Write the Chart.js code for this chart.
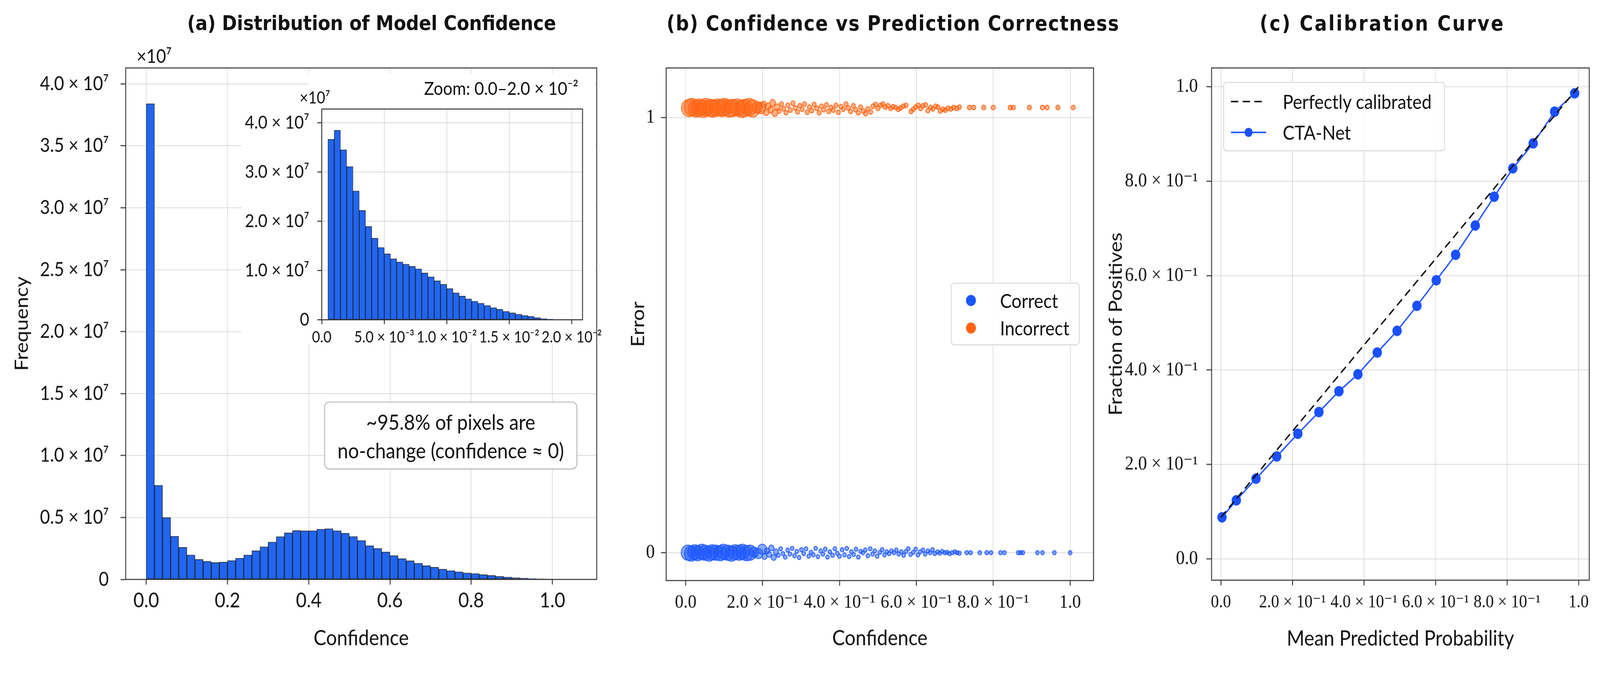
<!DOCTYPE html>
<html lang="en">
<head>
<meta charset="utf-8">
<title>Model confidence</title>
<script src="https://cdn.jsdelivr.net/npm/chart.js@4.4.1/dist/chart.umd.min.js"></script>
<style>
  html, body { margin: 0; padding: 0; background: #fff; overflow: hidden; }
  #pagina { position: relative; overflow: hidden; }
  /* figure is laid out at 4357 x 1601 and stretched by 1.12 in height, like the reference */
  #figuur { position: absolute; left: 0; top: 0; width: 4357px; height: 1601px; overflow: hidden; transform-origin: 0 0;
    font-family: Lato, "DejaVu Sans", sans-serif; color: #111; }
  .vak { position: absolute; top: 0; }
  .vak canvas { display: block; }
  .titel { position: absolute; top: 29px; font-family: "DejaVu Sans", sans-serif; font-weight: bold;
    line-height: 56px; white-space: nowrap; transform: translateX(-50%); }
  .tekst { position: absolute; white-space: nowrap; }
  .notitie { position: absolute; box-sizing: border-box; left: 883px; top: 977px; width: 689px; height: 165px;
    background: #fff; border: 2.5px solid #a8a8a8; border-radius: 14px; text-align: center;
    font-size: 52px; line-height: 68.7px; padding-top: 13px; }
  .legenda { position: absolute; box-sizing: border-box; background: rgba(255,255,255,0.9);
    border: 2.5px solid #d2d2d2; border-radius: 10px; font-size: 48px; }
  .legenda-item { position: absolute; white-space: nowrap; line-height: 50px; }
  .legenda svg { position: absolute; }
</style>
</head>
<body>
<div id="pagina">
<div id="figuur">
  <div class="vak" style="left:0"><canvas id="grafiek-a" width="1680" height="1601"></canvas></div>
  <div class="vak" style="left:640px;top:174px"><canvas id="grafiek-inzet" width="1010" height="679"></canvas></div>
  <div class="vak" style="left:1680px"><canvas id="grafiek-b" width="1320" height="1601"></canvas></div>
  <div class="vak" style="left:3000px"><canvas id="grafiek-c" width="1357" height="1601"></canvas></div>

  <div class="titel" style="left:1012px;font-size:49px">(a) Distribution of Model Confidence</div>
  <div class="titel" style="left:2432px;font-size:50px;letter-spacing:2px">(b) Confidence vs Prediction Correctness</div>
  <div class="titel" style="left:3764px;font-size:50px;letter-spacing:4px">(c) Calibration Curve</div>

  <div class="tekst" style="left:372px;top:110.7px;font-size:46px;line-height:50px">×10⁷</div>
  <div class="tekst" style="left:816px;top:214.6px;font-size:40px;line-height:44px">×10⁷</div>
  <div class="tekst" style="right:2782px;top:189.3px;font-size:45px;line-height:50px">Zoom: 0.0–2.0 × 10⁻²</div>

  <div class="notitie">~95.8% of pixels are<br>no-change (confidence ≈ 0)</div>

  <div class="legenda" style="left:2589px;top:687.5px;width:351px;height:152.7px">
    <svg style="left:39px;top:27.1px" width="28" height="28"><circle cx="14" cy="14" r="13.5" fill="#1a56ff"/></svg>
    <div class="legenda-item" style="left:132px;top:16.1px">Correct</div>
    <svg style="left:39px;top:94px" width="28" height="28"><circle cx="14" cy="14" r="13.5" fill="#ff6312"/></svg>
    <div class="legenda-item" style="left:132px;top:83px">Incorrect</div>
  </div>

  <div class="legenda" style="left:3331px;top:199.1px;width:604px;height:168.75px">
    <svg style="left:19px;top:33.5px" width="96" height="24"><line x1="0" y1="12" x2="96" y2="12" stroke="#000" stroke-width="3.5" stroke-dasharray="20 12"/></svg>
    <div class="legenda-item" style="left:160px;top:20.5px">Perfectly calibrated</div>
    <svg style="left:19px;top:108.5px" width="96" height="24"><line x1="0" y1="12" x2="96" y2="12" stroke="#1a50ff" stroke-width="3.5"/><circle cx="48" cy="12" r="11" fill="#1a50ff"/></svg>
    <div class="legenda-item" style="left:160px;top:95.5px">CTA-Net</div>
  </div>
</div>
</div>

<script>
// ---- histogram (a): 50 bins of 0.02 between 0 and 1 ----
const histStart = 0;
const histBinBreedte = 0.02;
const histAantallen = [
  3.840e7, 0.760e7, 0.499e7, 0.349e7, 0.260e7, 0.198e7, 0.162e7, 0.146e7, 0.136e7, 0.140e7,
  0.153e7, 0.172e7, 0.198e7, 0.232e7, 0.264e7, 0.302e7, 0.346e7, 0.376e7, 0.395e7, 0.393e7,
  0.393e7, 0.406e7, 0.410e7, 0.393e7, 0.373e7, 0.347e7, 0.314e7, 0.272e7, 0.250e7, 0.222e7,
  0.192e7, 0.168e7, 0.151e7, 0.131e7, 0.111e7, 0.098e7, 0.083e7, 0.071e7, 0.061e7, 0.053e7,
  0.047e7, 0.039e7, 0.032e7, 0.025e7, 0.019e7, 0.014e7, 0.010e7, 0.007e7, 0.005e7, 0.004e7,
];
const confTicks = [0, 0.2, 0.4, 0.6, 0.8, 1.0];
const confTickLabelsA = ['0.0', '0.2', '0.4', '0.6', '0.8', '1.0'];
const freqTicks = [0, 0.5e7, 1.0e7, 1.5e7, 2.0e7, 2.5e7, 3.0e7, 3.5e7, 4.0e7];
const freqTickLabels = ['0', '0.5 × 10⁷', '1.0 × 10⁷', '1.5 × 10⁷', '2.0 × 10⁷',
  '2.5 × 10⁷', '3.0 × 10⁷', '3.5 × 10⁷', '4.0 × 10⁷'];

// ---- inset: zoom 0 - 0.02 ----
const inzetStart = 0.0005;
const inzetBinBreedte = 0.0005;
const inzetAantallen = [
  3.662e7, 3.845e7, 3.451e7, 3.109e7, 2.613e7, 2.218e7, 1.894e7, 1.655e7, 1.468e7, 1.338e7,
  1.239e7, 1.173e7, 1.127e7, 1.085e7, 1.032e7, 0.951e7, 0.873e7, 0.792e7, 0.722e7, 0.634e7,
  0.546e7, 0.482e7, 0.423e7, 0.377e7, 0.335e7, 0.289e7, 0.246e7, 0.211e7, 0.169e7, 0.141e7,
  0.113e7, 0.088e7, 0.070e7, 0.042e7, 0.025e7, 0.014e7, 0.007e7, 0.004e7, 0.002e7, 0.001e7,
];
const inzetXTicks = [0, 0.005, 0.01, 0.015, 0.02];
const inzetXTickLabels = ['0.0', '5.0 × 10⁻³', '1.0 × 10⁻²', '1.5 × 10⁻²', '2.0 × 10⁻²'];
const inzetYTicks = [0, 1e7, 2e7, 3e7, 4e7];
const inzetYTickLabels = ['0', '1.0 × 10⁷', '2.0 × 10⁷', '3.0 × 10⁷', '4.0 × 10⁷'];

// ---- scatter (b) ----
const incorrectX = [
  0.009, 0.016, 0.027, 0.035, 0.046, 0.052, 0.064, 0.071, 0.083, 0.094,
  0.101, 0.113, 0.122, 0.134, 0.146, 0.153, 0.165, 0.174, 0.186, 0.195,
  0.203, 0.209, 0.214, 0.221, 0.226, 0.232, 0.238, 0.243, 0.249, 0.255,
  0.261, 0.266, 0.272, 0.279, 0.285, 0.291, 0.297, 0.303, 0.309, 0.316,
  0.322, 0.328, 0.334, 0.341, 0.347, 0.353, 0.359, 0.366, 0.372, 0.378,
  0.384, 0.391, 0.397, 0.404, 0.410, 0.417, 0.423, 0.429, 0.436, 0.442,
  0.449, 0.455, 0.462, 0.468, 0.474, 0.481, 0.487, 0.494, 0.500, 0.507,
  0.513, 0.519, 0.526, 0.533, 0.539, 0.546, 0.553, 0.559, 0.566, 0.573,
  0.586, 0.592, 0.598, 0.605, 0.611, 0.617, 0.624, 0.630, 0.637, 0.643,
  0.650, 0.656, 0.662, 0.669, 0.675, 0.682, 0.690, 0.697, 0.705, 0.712,
  0.738, 0.749, 0.775, 0.800, 0.844, 0.852, 0.894, 0.928, 0.940, 0.968, 1.008,
];
const incorrectY = [
  1.022, 1.024, 1.021, 1.023, 1.020, 1.024, 1.022, 1.021, 1.023, 1.022,
  1.024, 1.021, 1.022, 1.023, 1.020, 1.022, 1.024, 1.021, 1.023, 1.022,
  1.030, 1.012, 1.026, 1.018, 1.034, 1.010, 1.024, 1.015, 1.031, 1.020,
  1.011, 1.028, 1.017, 1.033, 1.022, 1.013, 1.027, 1.019, 1.031, 1.012,
  1.024, 1.016, 1.030, 1.021, 1.011, 1.026, 1.018, 1.029, 1.014, 1.023,
  1.017, 1.028, 1.012, 1.025, 1.019, 1.031, 1.022, 1.014, 1.027, 1.018,
  1.011, 1.024, 1.015, 1.009, 1.020, 1.013, 1.026, 1.030, 1.021, 1.028,
  1.031, 1.024, 1.027, 1.021, 1.025, 1.023, 1.019, 1.022, 1.026, 1.028,
  1.014, 1.019, 1.024, 1.028, 1.021, 1.027, 1.029, 1.016, 1.023, 1.020,
  1.026, 1.024, 1.015, 1.019, 1.017, 1.021, 1.020, 1.023, 1.021, 1.024,
  1.023, 1.023, 1.023, 1.023, 1.023, 1.023, 1.023, 1.023, 1.023, 1.023, 1.023,
];
const correctX = [
  0.006, 0.014, 0.023, 0.031, 0.042, 0.050, 0.061, 0.069, 0.079, 0.090,
  0.098, 0.109, 0.119, 0.128, 0.139, 0.148, 0.158, 0.167, 0.178, 0.189,
  0.199, 0.205, 0.211, 0.217, 0.223, 0.229, 0.235, 0.241, 0.247, 0.253,
  0.259, 0.265, 0.271, 0.277, 0.283, 0.289, 0.295, 0.301, 0.307, 0.313,
  0.320, 0.326, 0.332, 0.338, 0.344, 0.351, 0.357, 0.363, 0.369, 0.375,
  0.382, 0.388, 0.394, 0.400, 0.407, 0.413, 0.419, 0.425, 0.431, 0.437,
  0.443, 0.449, 0.455, 0.461, 0.467, 0.474, 0.480, 0.486, 0.492, 0.498,
  0.505, 0.511, 0.517, 0.523, 0.529, 0.535, 0.542, 0.548, 0.554, 0.561,
  0.567, 0.573, 0.579, 0.585, 0.592, 0.598, 0.604, 0.610, 0.617, 0.623,
  0.630, 0.636, 0.642, 0.648, 0.655, 0.661, 0.667, 0.674, 0.680, 0.686,
  0.693, 0.700, 0.706, 0.712,
  0.731, 0.741, 0.765, 0.783, 0.794, 0.819, 0.829, 0.865, 0.871, 0.877, 0.915, 0.928, 0.959, 1.000,
];
const correctY = [
  0.000, -0.002, 0.001, -0.001, 0.002, 0.000, -0.002, 0.001, 0.000, -0.001,
  0.002, 0.000, -0.002, 0.001, 0.000, 0.002, -0.001, 0.000, 0.001, -0.002,
  0.008, -0.009, 0.004, -0.004, 0.011, -0.011, 0.002, -0.006, 0.009, -0.002,
  -0.010, 0.006, -0.003, 0.010, -0.007, 0.003, -0.011, 0.007, -0.002, 0.009,
  -0.008, 0.001, -0.005, 0.010, -0.009, 0.004, -0.003, 0.008, -0.010, 0.002,
  -0.006, 0.009, -0.001, -0.008, 0.007, -0.005, 0.010, -0.009, 0.002, -0.004,
  0.008, -0.010, 0.003, 0.000, 0.006, -0.007, 0.009, -0.003, 0.004, -0.008,
  0.001, 0.007, -0.005, 0.002, -0.002, 0.004, 0.000, 0.006, -0.003, 0.002,
  -0.006, 0.003, 0.009, -0.004, 0.001, 0.008, -0.005, 0.002, 0.006, -0.003,
  0.004, 0.000, 0.007, -0.002, 0.002, -0.001, 0.003, 0.000, 0.001, -0.002,
  0.000, 0.002, 0.000, -0.001,
  0, 0, 0, 0, 0, 0, 0, 0, 0, 0, 0, 0, 0, 0,
];
const confTickLabelsSci = ['0.0', '2.0 × 10⁻¹', '4.0 × 10⁻¹', '6.0 × 10⁻¹', '8.0 × 10⁻¹', '1.0'];
const errorTicks = [0, 1];
const errorTickLabels = ['0', '1'];

// ---- calibration (c) ----
const kalibratieX = [0.003, 0.043, 0.098, 0.156, 0.215, 0.274, 0.330, 0.383, 0.437, 0.4925,
  0.548, 0.602, 0.656, 0.711, 0.764, 0.816, 0.873, 0.933, 0.989];
const kalibratieY = [0.088, 0.124, 0.170, 0.217, 0.265, 0.311, 0.355, 0.391, 0.437, 0.483,
  0.536, 0.590, 0.644, 0.706, 0.767, 0.827, 0.880, 0.947, 0.986];
const perfectX = [0, 1];
const perfectY = [0.088, 1.0];
const fractieTicks = [0, 0.2, 0.4, 0.6, 0.8, 1.0];
const fractieTickLabels = ['0.0', '2.0 × 10⁻¹', '4.0 × 10⁻¹', '6.0 × 10⁻¹', '8.0 × 10⁻¹', '1.0'];

// ---- style ----
const SY = 1.12;
const HIST_BLAUW = '#2166f2';
const HIST_RAND = '#1c1c1c';
const BLAUW = '#1a56ff';
const ORANJE = '#ff6312';
const LIJN_BLAUW = '#1a50ff';
const RASTER = 'rgba(150,150,150,0.35)';
const KADER = '#333333';
const SANS = 'Lato, "DejaVu Sans", sans-serif';
const SERIF = '"Liberation Serif", "DejaVu Serif", serif';

// fit the 4357 px wide figure to the window width, then stretch it vertically
const k = window.innerWidth / 4357;
const pagina = document.getElementById('pagina');
pagina.style.width = `${4357 * k}px`;
pagina.style.height = `${1793 * k}px`;
document.body.style.height = `${1793 * k}px`;
document.getElementById('figuur').style.transform = `scale(${k}, ${k * SY})`;

Chart.defaults.font.family = SANS;
Chart.defaults.color = '#111';
Chart.defaults.animation = false;
Chart.defaults.events = [];
Chart.defaults.devicePixelRatio = (window.devicePixelRatio || 1) * k * SY;
Chart.defaults.plugins.legend.display = false;
Chart.defaults.plugins.tooltip.enabled = false;

const kaderPlugin = {
  id: 'kader',
  afterDatasetsDraw(chart) {
    const { ctx, chartArea: a } = chart;
    ctx.save();
    ctx.strokeStyle = KADER;
    ctx.lineWidth = 2.5;
    ctx.setLineDash([]);
    ctx.strokeRect(a.left, a.top, a.right - a.left, a.bottom - a.top);
    ctx.restore();
  },
};

// white patch behind the inset, hides the main grid there
const inzetAchtergrond = {
  id: 'inzetAchtergrond',
  beforeDraw(chart) {
    const ctx = chart.ctx;
    ctx.save();
    ctx.fillStyle = '#fff';
    ctx.fillRect(18, 90.2, 962, 570.5);
    ctx.fillRect(197, 4.5, 783, 85.7);
    ctx.restore();
  },
};

function schaal({ min, max, ticks, labels, font, padding, size, tickLength, titel }) {
  return {
    type: 'linear',
    min, max,
    bounds: 'data',
    offset: false,
    afterBuildTicks: s => { s.ticks = ticks.map(v => ({ value: v })); },
    afterFit: s => { if (s.isHorizontal()) s.height = size; else s.width = size; },
    ticks: {
      autoSkip: false, maxRotation: 0, minRotation: 0,
      padding, font, color: '#111',
      callback: (v, i) => labels[i],
    },
    grid: {
      color: RASTER, lineWidth: 1.8, borderDash: [10, 8], offset: false,
      tickLength, tickColor: KADER, tickWidth: 2.5, tickBorderDash: [],
    },
    border: { display: false },
    title: titel
      ? { display: true, text: titel.tekst, color: '#111', font: { family: SANS, size: titel.grootte }, padding: titel.padding }
      : { display: false },
  };
}

function histogramPunten(start, breedte, aantallen) {
  return aantallen.map((y, i) => ({ x: start + (i + 0.5) * breedte, y }));
}

function punten(xs, ys) {
  return xs.map((x, i) => ({ x, y: ys[i] }));
}

// marker size shrinks where the points thin out
function straal(groot) {
  return ctx => {
    const x = ctx.raw ? ctx.raw.x : 1;
    if (x < 0.175) return groot;
    if (x < 0.2) return groot * 0.66;
    if (x < 0.24) return groot * 0.38;
    return groot * 0.27;
  };
}

function histDataset(data, randBreedte) {
  return {
    data,
    backgroundColor: HIST_BLAUW,
    borderColor: HIST_RAND,
    borderWidth: randBreedte,
    borderSkipped: false,
    barPercentage: 1,
    categoryPercentage: 1,
    grouped: false,
  };
}

function tekenHistogram() {
  new Chart(document.getElementById('grafiek-a'), {
    type: 'bar',
    data: { datasets: [histDataset(histogramPunten(histStart, histBinBreedte, histAantallen), 1.6)] },
    options: {
      responsive: false,
      layout: { padding: { top: 165.2, right: 56, left: 0, bottom: 0 } },
      scales: {
        x: schaal({ min: -0.0507, max: 1.109, ticks: confTicks, labels: confTickLabelsA,
          font: { size: 50 }, padding: 9.3, size: 192, tickLength: 12.5,
          titel: { tekst: 'Confidence', grootte: 52, padding: { top: 0, bottom: 18 } } }),
        y: schaal({ min: 0, max: 4.129e7, ticks: freqTicks, labels: freqTickLabels,
          font: { size: 47 }, padding: 32, size: 342, tickLength: 14,
          titel: { tekst: 'Frequency', grootte: 50, padding: { top: 30, bottom: 0 } } }),
      },
    },
    plugins: [kaderPlugin],
  });
}

function tekenInzet() {
  new Chart(document.getElementById('grafiek-inzet'), {
    type: 'bar',
    data: { datasets: [histDataset(histogramPunten(inzetStart, inzetBinBreedte, inzetAantallen), 1.4)] },
    options: {
      responsive: false,
      layout: { padding: { top: 91.1, right: 54, left: 0, bottom: 0 } },
      scales: {
        x: schaal({ min: 0, max: 0.02087, ticks: inzetXTicks, labels: inzetXTickLabels,
          font: { size: 38 }, padding: 9.4, size: 75.9, tickLength: 10.7 }),
        y: schaal({ min: 0, max: 4.277e7, ticks: inzetYTicks, labels: inzetYTickLabels,
          font: { size: 44 }, padding: 22, size: 236, tickLength: 12 }),
      },
    },
    plugins: [inzetAchtergrond, kaderPlugin],
  });
}

function tekenSpreiding() {
  new Chart(document.getElementById('grafiek-b'), {
    type: 'scatter',
    data: {
      datasets: [
        {
          label: 'Correct',
          data: punten(correctX, correctY),
          backgroundColor: 'rgba(26,86,255,0.5)',
          borderColor: BLAUW,
          borderWidth: 2,
          pointRadius: straal(18.5),
        },
        {
          label: 'Incorrect',
          data: punten(incorrectX, incorrectY),
          backgroundColor: 'rgba(255,99,18,0.5)',
          borderColor: ORANJE,
          borderWidth: 2,
          pointRadius: straal(21),
        },
      ],
    },
    options: {
      responsive: false,
      layout: { padding: { top: 165.2, right: 3, left: 0, bottom: 0 } },
      scales: {
        x: schaal({ min: -0.0507, max: 1.0608, ticks: confTicks, labels: confTickLabelsSci,
          font: { family: SERIF, size: 47 }, padding: 12.9, size: 189.3, tickLength: 12.5,
          titel: { tekst: 'Confidence', grootte: 52, padding: { top: 0, bottom: 18 } } }),
        y: schaal({ min: -0.064, max: 1.114, ticks: errorTicks, labels: errorTickLabels,
          font: { family: SERIF, size: 48 }, padding: 17, size: 134, tickLength: 14,
          titel: { tekst: 'Error', grootte: 50, padding: { top: 28, bottom: 0 } } }),
      },
    },
    plugins: [kaderPlugin],
  });
}

function tekenKalibratie() {
  new Chart(document.getElementById('grafiek-c'), {
    type: 'scatter',
    data: {
      datasets: [
        {
          label: 'Perfectly calibrated',
          data: punten(perfectX, perfectY),
          showLine: true,
          borderColor: '#000',
          borderWidth: 3.5,
          borderDash: [20, 12],
          pointRadius: 0,
        },
        {
          label: 'CTA-Net',
          data: punten(kalibratieX, kalibratieY),
          showLine: true,
          borderColor: LIJN_BLAUW,
          borderWidth: 3.5,
          pointRadius: 11,
          pointBackgroundColor: LIJN_BLAUW,
          pointBorderColor: LIJN_BLAUW,
        },
      ],
    },
    options: {
      responsive: false,
      layout: { padding: { top: 165.2, right: 30, left: 0, bottom: 0 } },
      scales: {
        x: schaal({ min: -0.0262, max: 1.0298, ticks: confTicks, labels: confTickLabelsSci,
          font: { family: SERIF, size: 44 }, padding: 15.6, size: 190.2, tickLength: 12.5,
          titel: { tekst: 'Mean Predicted Probability', grootte: 52, padding: { top: 0, bottom: 16.2 } } }),
        y: schaal({ min: -0.0451, max: 1.0397, ticks: fractieTicks, labels: fractieTickLabels,
          font: { family: SERIF, size: 48 }, padding: 23, size: 299, tickLength: 14,
          titel: { tekst: 'Fraction of Positives', grootte: 50, padding: { top: 9, bottom: 0 } } }),
      },
    },
    plugins: [kaderPlugin],
  });
}

document.addEventListener('DOMContentLoaded', () => {
  tekenHistogram();
  tekenInzet();
  tekenSpreiding();
  tekenKalibratie();
});
</script>
</body>
</html>
